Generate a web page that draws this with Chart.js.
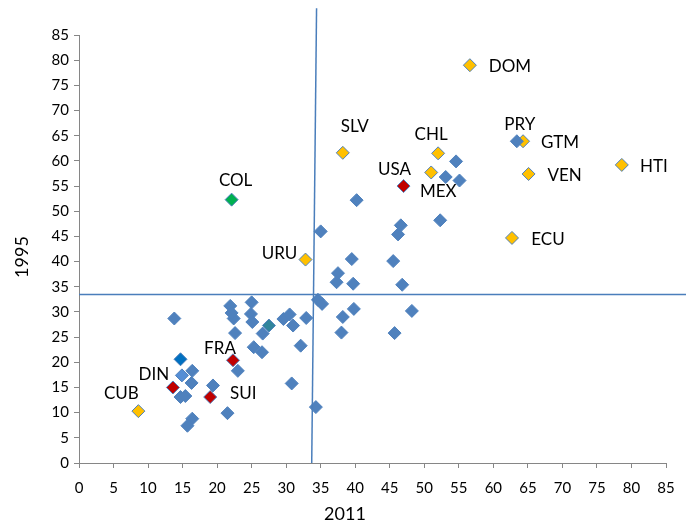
<!DOCTYPE html>
<html>
<head>
<meta charset="utf-8">
<script src="https://cdn.jsdelivr.net/npm/chart.js@4/dist/chart.umd.min.js"></script>
<style>
  body { margin: 0; background: #fff; }
</style>
</head>
<body>
<canvas id="graphique" width="686" height="525"></canvas>
<script>
// Pays en bleu (non étiquetés sauf PRY, le premier)
const bleusNoms = ['PRY'];
const bleus2011 = [63.4, 40.2, 54.6, 53.1, 55.1, 52.3, 46.6, 46.2, 35.0, 39.5, 45.5, 37.5, 37.3, 39.7, 46.8,
    34.6, 35.2, 39.8, 38.2, 48.2, 32.9, 45.7, 38.0, 25.0, 24.9, 25.1, 26.6, 29.6, 30.5, 31.0, 32.1, 25.3,
    26.5, 23.0, 30.8, 34.3, 13.8, 21.9, 22.4, 22.1, 22.6, 16.4, 16.3, 14.7, 15.4, 19.4, 21.5, 16.4, 15.7];
const bleus1995 = [63.9, 52.2, 59.9, 56.8, 56.1, 48.2, 47.2, 45.4, 46.0, 40.5, 40.1, 37.7, 35.9, 35.6, 35.4,
    32.4, 31.6, 30.6, 29.0, 30.2, 28.8, 25.8, 25.9, 31.9, 29.6, 28.0, 25.7, 28.6, 29.5, 27.3, 23.3, 23.0,
    22.0, 18.3, 15.8, 11.1, 28.7, 31.2, 28.7, 29.8, 25.8, 18.3, 15.9, 13.1, 13.3, 15.4, 9.9, 8.8, 7.4];

// Pays en jaune
const jaunesNoms = ['DOM', 'GTM', 'HTI', 'VEN', 'CHL', 'MEX', 'ECU', 'SLV', 'URU', 'CUB'];
const jaunes2011 = [56.6, 64.3, 78.6, 65.1, 52.0, 51.0, 62.7, 38.2, 32.8, 8.6];
const jaunes1995 = [79.0, 63.9, 59.2, 57.4, 61.5, 57.7, 44.7, 61.6, 40.4, 10.3];

// Pays en rouge
const rougesNoms = ['USA', 'FRA', 'DIN', 'SUI'];
const rouges2011 = [47.0, 22.3, 13.6, 19.0];
const rouges1995 = [55.0, 20.4, 15.0, 13.1];

// Colombie (vert)
const vertsNoms = ['COL'];
const verts2011 = [22.1];
const verts1995 = [52.3];

// Points isolés d'autres couleurs
const turquoise2011 = [27.5];
const turquoise1995 = [27.3];
const bleuFonce2011 = [14.7];
const bleuFonce1995 = [20.6];
const bleuClair2011 = [14.9];
const bleuClair1995 = [17.4];

// Lignes des moyennes
const ligneVerticale2011 = [33.7, 34.4];
const ligneVerticale1995 = [0, 90.3];
const ligneHorizontale2011 = [0, 88];
const ligneHorizontale1995 = [33.45, 33.45];

// Graduations des axes
const graduations = [0, 5, 10, 15, 20, 25, 30, 35, 40, 45, 50, 55, 60, 65, 70, 75, 80, 85];

// Décalage (en pixels) de chaque étiquette par rapport à son point
const decalages = {
    DOM: [40, 1], GTM: [37, 1], HTI: [32, 2], VEN: [36, 2], CHL: [-7, -19], MEX: [7, 19],
    ECU: [36, 2], SLV: [12, -26], URU: [-26, -6], CUB: [-17, -18], USA: [-9, -17],
    FRA: [-13, -12], DIN: [-19, -13], SUI: [33, -4], COL: [4, -19], PRY: [3, -17]
};

const police = 'Lato, "Open Sans", sans-serif';

function points(xs, ys) {
    return xs.map((x, i) => ({ x: x, y: ys[i] }));
}

function serie(xs, ys, couleur, noms) {
    return {
        data: points(xs, ys),
        noms: noms || [],
        backgroundColor: couleur,
        borderColor: '#4F81BD',
        borderWidth: 1,
        pointStyle: 'rectRot',
        pointRadius: 6.5,
        pointHoverRadius: 6.5,
        order: 1
    };
}

function ligne(xs, ys) {
    return {
        type: 'line',
        data: points(xs, ys),
        showLine: true,
        borderColor: '#4A7EBB',
        borderWidth: 1.5,
        pointRadius: 0,
        fill: false,
        clip: false,
        order: 0
    };
}

// Étiquettes des pays et titres des axes
const etiquettes = {
    id: 'etiquettes',
    afterDraw(chart) {
        const ctx = chart.ctx;
        const sx = chart.scales.x;
        const sy = chart.scales.y;
        ctx.save();
        ctx.fillStyle = '#000';
        ctx.font = '17px ' + police;
        ctx.textAlign = 'center';
        ctx.textBaseline = 'middle';
        chart.data.datasets.forEach(ds => {
            (ds.noms || []).forEach((nom, i) => {
                const p = ds.data[i];
                const d = decalages[nom] || [0, -18];
                ctx.fillText(nom, sx.getPixelForValue(p.x) + d[0], sy.getPixelForValue(p.y) + d[1]);
            });
        });
        ctx.font = '18px ' + police;
        ctx.fillText('2011', 345, 514);
        ctx.translate(22, 257);
        ctx.rotate(-Math.PI / 2);
        ctx.fillText('1995', 0, 0);
        ctx.restore();
    }
};

function axe(largeurOuHauteur, horizontal) {
    return {
        type: 'linear',
        min: 0,
        max: 85,
        afterBuildTicks: scale => { scale.ticks = graduations.map(v => ({ value: v })); },
        afterFit: scale => {
            if (horizontal) scale.height = largeurOuHauteur;
            else scale.width = largeurOuHauteur;
        },
        ticks: {
            color: '#000',
            font: { family: police, size: 15 },
            padding: horizontal ? 11 : 5,
            maxRotation: 0,
            autoSkip: false
        },
        grid: {
            drawOnChartArea: false,
            drawTicks: true,
            tickLength: 5,
            color: '#868686'
        },
        border: { color: '#868686', width: 1 }
    };
}

new Chart(document.getElementById('graphique').getContext('2d'), {
    type: 'scatter',
    data: {
        datasets: [
            ligne(ligneVerticale2011, ligneVerticale1995),
            ligne(ligneHorizontale2011, ligneHorizontale1995),
            serie(bleus2011, bleus1995, '#4F81BD', bleusNoms),
            serie(turquoise2011, turquoise1995, '#31859C'),
            serie(bleuFonce2011, bleuFonce1995, '#0070C0'),
            serie(bleuClair2011, bleuClair1995, '#558ED5'),
            serie(jaunes2011, jaunes1995, '#FFC000', jaunesNoms),
            serie(rouges2011, rouges1995, '#C00000', rougesNoms),
            serie(verts2011, verts1995, '#00B050', vertsNoms)
        ]
    },
    options: {
        responsive: false,
        animation: false,
        layout: { padding: { top: 35, right: 20, left: 0, bottom: 0 } },
        plugins: {
            legend: { display: false },
            tooltip: { enabled: false }
        },
        scales: {
            x: axe(62, true),
            y: axe(79, false)
        }
    },
    plugins: [etiquettes]
});
</script>
</body>
</html>
